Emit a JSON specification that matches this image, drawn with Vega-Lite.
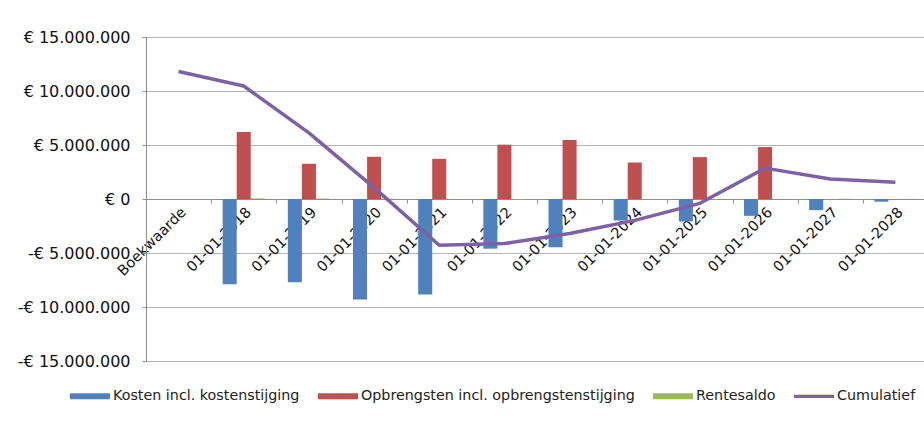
{
  "$schema": "https://vega.github.io/schema/vega-lite/v6.json",
  "width": 782,
  "height": 324,
  "autosize": {"type": "none"},
  "padding": {"left": 146, "top": 37, "right": 0, "bottom": 61},
  "background": "white",
  "data": {
    "values": [
      {"datum": "Boekwaarde", "serie": "Cumulatief", "bedrag": 11800000},
      {"datum": "01-01-2018", "serie": "Kosten incl. kostenstijging", "bedrag": -7900000},
      {"datum": "01-01-2018", "serie": "Opbrengsten incl. opbrengstenstijging", "bedrag": 6210000},
      {"datum": "01-01-2018", "serie": "Rentesaldo", "bedrag": 60000},
      {"datum": "01-01-2018", "serie": "Cumulatief", "bedrag": 10460000},
      {"datum": "01-01-2019", "serie": "Kosten incl. kostenstijging", "bedrag": -7700000},
      {"datum": "01-01-2019", "serie": "Opbrengsten incl. opbrengstenstijging", "bedrag": 3260000},
      {"datum": "01-01-2019", "serie": "Rentesaldo", "bedrag": 40000},
      {"datum": "01-01-2019", "serie": "Cumulatief", "bedrag": 6120000},
      {"datum": "01-01-2020", "serie": "Kosten incl. kostenstijging", "bedrag": -9300000},
      {"datum": "01-01-2020", "serie": "Opbrengsten incl. opbrengstenstijging", "bedrag": 3910000},
      {"datum": "01-01-2020", "serie": "Rentesaldo", "bedrag": 20000},
      {"datum": "01-01-2020", "serie": "Cumulatief", "bedrag": 1050000},
      {"datum": "01-01-2021", "serie": "Kosten incl. kostenstijging", "bedrag": -8850000},
      {"datum": "01-01-2021", "serie": "Opbrengsten incl. opbrengstenstijging", "bedrag": 3720000},
      {"datum": "01-01-2021", "serie": "Rentesaldo", "bedrag": -20000},
      {"datum": "01-01-2021", "serie": "Cumulatief", "bedrag": -4280000},
      {"datum": "01-01-2022", "serie": "Kosten incl. kostenstijging", "bedrag": -4600000},
      {"datum": "01-01-2022", "serie": "Opbrengsten incl. opbrengstenstijging", "bedrag": 5030000},
      {"datum": "01-01-2022", "serie": "Rentesaldo", "bedrag": -40000},
      {"datum": "01-01-2022", "serie": "Cumulatief", "bedrag": -4130000},
      {"datum": "01-01-2023", "serie": "Kosten incl. kostenstijging", "bedrag": -4470000},
      {"datum": "01-01-2023", "serie": "Opbrengsten incl. opbrengstenstijging", "bedrag": 5460000},
      {"datum": "01-01-2023", "serie": "Rentesaldo", "bedrag": -30000},
      {"datum": "01-01-2023", "serie": "Cumulatief", "bedrag": -3200000},
      {"datum": "01-01-2024", "serie": "Kosten incl. kostenstijging", "bedrag": -1980000},
      {"datum": "01-01-2024", "serie": "Opbrengsten incl. opbrengstenstijging", "bedrag": 3380000},
      {"datum": "01-01-2024", "serie": "Rentesaldo", "bedrag": -20000},
      {"datum": "01-01-2024", "serie": "Cumulatief", "bedrag": -1980000},
      {"datum": "01-01-2025", "serie": "Kosten incl. kostenstijging", "bedrag": -2080000},
      {"datum": "01-01-2025", "serie": "Opbrengsten incl. opbrengstenstijging", "bedrag": 3880000},
      {"datum": "01-01-2025", "serie": "Rentesaldo", "bedrag": -10000},
      {"datum": "01-01-2025", "serie": "Cumulatief", "bedrag": -400000},
      {"datum": "01-01-2026", "serie": "Kosten incl. kostenstijging", "bedrag": -1560000},
      {"datum": "01-01-2026", "serie": "Opbrengsten incl. opbrengstenstijging", "bedrag": 4810000},
      {"datum": "01-01-2026", "serie": "Rentesaldo", "bedrag": 10000},
      {"datum": "01-01-2026", "serie": "Cumulatief", "bedrag": 2860000},
      {"datum": "01-01-2027", "serie": "Kosten incl. kostenstijging", "bedrag": -1030000},
      {"datum": "01-01-2027", "serie": "Opbrengsten incl. opbrengstenstijging", "bedrag": 0},
      {"datum": "01-01-2027", "serie": "Rentesaldo", "bedrag": 20000},
      {"datum": "01-01-2027", "serie": "Cumulatief", "bedrag": 1850000},
      {"datum": "01-01-2028", "serie": "Kosten incl. kostenstijging", "bedrag": -250000},
      {"datum": "01-01-2028", "serie": "Opbrengsten incl. opbrengstenstijging", "bedrag": 0},
      {"datum": "01-01-2028", "serie": "Rentesaldo", "bedrag": 10000},
      {"datum": "01-01-2028", "serie": "Cumulatief", "bedrag": 1550000}
    ]
  },
  "encoding": {
    "x": {
      "field": "datum",
      "type": "nominal",
      "sort": null,
      "scale": {
        "domain": ["Boekwaarde", "01-01-2018", "01-01-2019", "01-01-2020", "01-01-2021", "01-01-2022", "01-01-2023", "01-01-2024", "01-01-2025", "01-01-2026", "01-01-2027", "01-01-2028"],
        "paddingInner": 0,
        "paddingOuter": 0
      },
      "axis": {
        "title": null,
        "offset": -162,
        "tickBand": "extent",
        "labelAngle": -45,
        "labelPadding": 2,
        "tickSize": 4,
        "tickColor": "#8c8c8c",
        "domainColor": "#8c8c8c",
        "labelFont": "DejaVu Sans",
        "labelFontSize": 14.5,
        "labelColor": "#111111",
        "grid": false
      }
    },
    "y": {
      "field": "bedrag",
      "type": "quantitative",
      "scale": {"domain": [-15000000, 15000000], "nice": false},
      "axis": {
        "title": null,
        "values": [-15000000, -10000000, -5000000, 0, 5000000, 10000000, 15000000],
        "labelExpr": "(datum.value < 0 ? '-€ ' : '€ ') + replace(format(abs(datum.value), ','), /,/g, '.')",
        "gridColor": "#b5b5b5",
        "domainColor": "#8c8c8c",
        "tickColor": "#8c8c8c",
        "tickSize": 4,
        "labelPadding": 12,
        "labelFont": "DejaVu Sans",
        "labelFontSize": 16,
        "labelColor": "#111111"
      }
    }
  },
  "layer": [
    {
      "transform": [{"filter": "datum.serie !== 'Cumulatief'"}],
      "mark": {"type": "bar"},
      "encoding": {
        "xOffset": {
          "field": "serie",
          "type": "nominal",
          "sort": null,
          "scale": {
            "domain": ["Kosten incl. kostenstijging", "Opbrengsten incl. opbrengstenstijging", "Rentesaldo"],
            "paddingInner": 0,
            "paddingOuter": 0.82
          }
        },
        "color": {
          "field": "serie",
          "type": "nominal",
          "scale": {
            "domain": ["Kosten incl. kostenstijging", "Opbrengsten incl. opbrengstenstijging", "Rentesaldo", "Cumulatief"],
            "range": ["#4F81BD", "#C0504D", "#9BBB59", "#7E60A6"]
          },
          "legend": {
            "title": null,
            "orient": "none",
            "direction": "horizontal",
            "legendX": -76,
            "legendY": 339,
            "padding": 0,
            "symbolType": "M-1,-0.15L1,-0.15L1,0.15L-1,0.15Z",
            "symbolSize": 1600,
            "symbolStrokeWidth": 0,
            "symbolOpacity": 1,
            "labelFont": "DejaVu Sans",
            "labelFontSize": 14.3,
            "labelLimit": 400,
            "labelColor": "#222222",
            "labelOffset": 3,
            "columnPadding": 18,
            "encode": {
              "symbols": {
                "update": {
                  "shape": {"signal": "datum.value === 'Cumulatief' ? 'M-1,-0.08L1,-0.08L1,0.08L-1,0.08Z' : 'M-1,-0.15L1,-0.15L1,0.15L-1,0.15Z'"}
                }
              }
            }
          }
        }
      }
    },
    {
      "transform": [{"filter": "datum.serie === 'Cumulatief'"}],
      "mark": {"type": "line", "color": "#7E60A6", "strokeWidth": 3.5, "strokeJoin": "round"},
      "encoding": {}
    }
  ]
}
